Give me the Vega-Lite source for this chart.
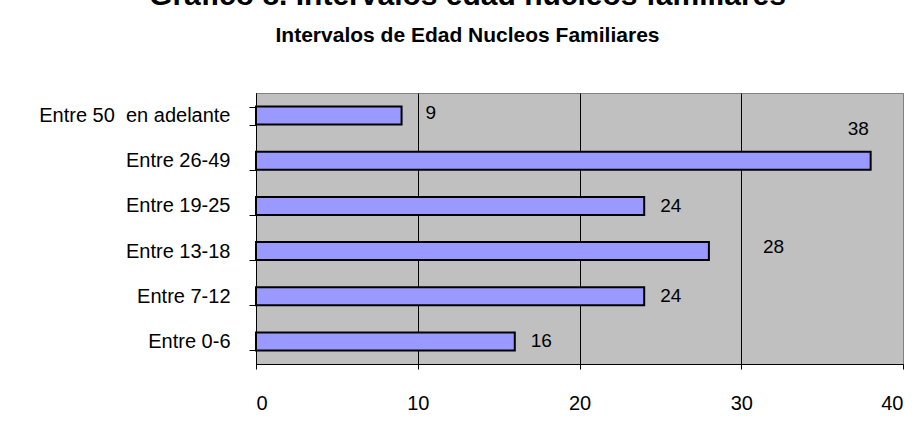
{
  "$schema": "https://vega.github.io/schema/vega-lite/v6.json",
  "width": 647,
  "height": 271,
  "autosize": {"type": "none"},
  "padding": {"left": 256, "top": 93, "right": 16, "bottom": 73},
  "background": "white",
  "title": {
    "text": "Grafico 8. Intervalos edad nucleos familiares",
    "subtitle": "Intervalos de Edad Nucleos Familiares",
    "anchor": "middle",
    "frame": "group",
    "dx": -112,
    "font": "Liberation Sans",
    "fontSize": 30,
    "fontWeight": "bold",
    "color": "black",
    "subtitleFont": "Liberation Sans",
    "subtitleFontSize": 21,
    "subtitleFontWeight": "bold",
    "subtitleColor": "black",
    "subtitlePadding": 14,
    "offset": 37
  },
  "config": {
    "view": {"fill": "#C0C0C0", "stroke": "#808080", "strokeWidth": 1},
    "font": "Liberation Sans"
  },
  "data": {
    "values": [
      {"grupo": "Entre 50\u00a0 en adelante", "n": 9},
      {"grupo": "Entre 26-49", "n": 38},
      {"grupo": "Entre 19-25", "n": 24},
      {"grupo": "Entre 13-18", "n": 28},
      {"grupo": "Entre 7-12", "n": 24},
      {"grupo": "Entre 0-6", "n": 16}
    ]
  },
  "encoding": {
    "y": {
      "field": "grupo",
      "type": "nominal",
      "sort": null,
      "scale": {"paddingInner": 0.6, "paddingOuter": 0.3},
      "axis": {
        "title": null,
        "tickBand": "extent",
        "tickSize": 7,
        "tickColor": "black",
        "domainColor": "black",
        "labelPadding": 19,
        "labelFontSize": 20,
        "labelLimit": 300,
        "labelColor": "black",
        "labelFont": "Liberation Sans",
        "grid": false
      }
    },
    "x": {
      "field": "n",
      "type": "quantitative",
      "scale": {"domain": [0, 40], "nice": false},
      "axis": {
        "title": null,
        "values": [0, 10, 20, 30, 40],
        "grid": true,
        "gridColor": {"condition": {"test": "datum.value === 40", "value": "#808080"}, "value": "black"},
        "gridWidth": 1,
        "tickSize": 5,
        "tickColor": "black",
        "domainColor": "black",
        "labelPadding": 24,
        "labelFontSize": 20,
        "labelColor": "black",
        "labelFont": "Liberation Sans"
      }
    }
  },
  "layer": [
    {
      "mark": {"type": "bar", "fill": "#9999FF", "stroke": "black", "strokeWidth": 2}
    },
    {
      "transform": [{"filter": "datum.n == 24 || datum.n == 16"}],
      "mark": {"type": "text", "align": "left", "baseline": "middle", "dx": 16, "fontSize": 19, "color": "black"},
      "encoding": {"text": {"field": "n"}}
    },
    {
      "transform": [{"filter": "datum.n == 9"}],
      "mark": {"type": "text", "align": "left", "baseline": "middle", "dx": 24, "dy": -3, "fontSize": 19, "color": "black"},
      "encoding": {"text": {"field": "n"}}
    },
    {
      "transform": [{"filter": "datum.n == 28"}],
      "mark": {"type": "text", "align": "left", "baseline": "middle", "dx": 54, "dy": -4, "fontSize": 19, "color": "black"},
      "encoding": {"text": {"field": "n"}}
    },
    {
      "transform": [{"filter": "datum.n == 38"}],
      "mark": {"type": "text", "align": "left", "baseline": "middle", "dx": -23, "dy": -32, "fontSize": 19, "color": "black"},
      "encoding": {"text": {"field": "n"}}
    }
  ]
}
